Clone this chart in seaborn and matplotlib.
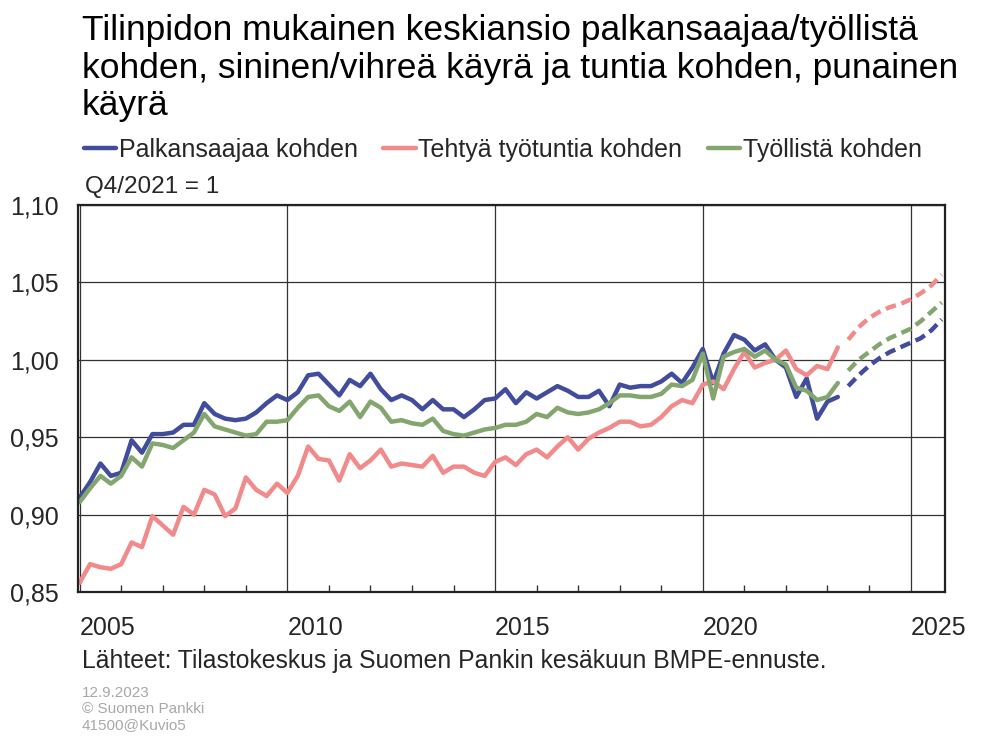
import numpy as np
import pandas as pd
import matplotlib
matplotlib.use('Agg')
import matplotlib.pyplot as plt
import seaborn as sns
from matplotlib.lines import Line2D
from matplotlib.ticker import FuncFormatter, MultipleLocator

sns.set_theme(style='white')
plt.rcParams['font.family'] = ['Liberation Sans', 'DejaVu Sans']

# neljännekset 2005Q1 - 2025Q4, toteutunut 2005Q1 - 2023Q2, ennuste 2023Q3 -
quarters = pd.period_range('2005Q1', '2025Q4', freq='Q')
n_actual = 74

palkansaaja = [0.911, 0.921, 0.933, 0.925, 0.927, 0.948, 0.940, 0.952, 0.952, 0.953,
               0.958, 0.958, 0.972, 0.965, 0.962, 0.961, 0.962, 0.966, 0.972, 0.977,
               0.974, 0.979, 0.990, 0.991, 0.984, 0.977, 0.987, 0.983, 0.991, 0.981,
               0.974, 0.977, 0.974, 0.968, 0.974, 0.968, 0.968, 0.963, 0.968, 0.974,
               0.975, 0.981, 0.972, 0.979, 0.975, 0.979, 0.983, 0.980, 0.976, 0.976,
               0.980, 0.970, 0.984, 0.982, 0.983, 0.983, 0.986, 0.991, 0.985, 0.995,
               1.007, 0.985, 1.004, 1.016, 1.013, 1.006, 1.010, 1.000, 0.995, 0.976,
               0.988, 0.962, 0.973, 0.976]
tyotunti = [0.856, 0.868, 0.866, 0.865, 0.868, 0.882, 0.879, 0.899, 0.893, 0.887,
            0.905, 0.900, 0.916, 0.913, 0.899, 0.904, 0.924, 0.916, 0.912, 0.920,
            0.914, 0.925, 0.944, 0.936, 0.935, 0.922, 0.939, 0.930, 0.935, 0.942,
            0.931, 0.933, 0.932, 0.931, 0.938, 0.927, 0.931, 0.931, 0.927, 0.925,
            0.934, 0.937, 0.932, 0.939, 0.942, 0.937, 0.944, 0.950, 0.942, 0.949,
            0.953, 0.956, 0.960, 0.960, 0.957, 0.958, 0.963, 0.970, 0.974, 0.972,
            0.984, 0.986, 0.981, 0.994, 1.005, 0.995, 0.998, 1.000, 1.006, 0.994,
            0.990, 0.996, 0.994, 1.008]
tyollinen = [0.908, 0.917, 0.925, 0.920, 0.925, 0.937, 0.931, 0.946, 0.945, 0.943,
             0.948, 0.953, 0.965, 0.957, 0.955, 0.953, 0.951, 0.952, 0.960, 0.960,
             0.961, 0.969, 0.976, 0.977, 0.970, 0.967, 0.973, 0.963, 0.973, 0.969,
             0.960, 0.961, 0.959, 0.958, 0.962, 0.954, 0.952, 0.951, 0.953, 0.955,
             0.956, 0.958, 0.958, 0.960, 0.965, 0.963, 0.969, 0.966, 0.965, 0.966,
             0.968, 0.972, 0.977, 0.977, 0.976, 0.976, 0.978, 0.984, 0.983, 0.987,
             1.004, 0.975, 1.002, 1.005, 1.007, 1.002, 1.006, 1.000, 0.997, 0.982,
             0.980, 0.974, 0.976, 0.985]

palkansaaja_ennuste = [0.983, 0.990, 0.996, 1.001, 1.005, 1.008, 1.011, 1.014, 1.019, 1.026]
tyotunti_ennuste = [1.013, 1.021, 1.027, 1.031, 1.034, 1.036, 1.039, 1.043, 1.048, 1.055]
tyollinen_ennuste = [0.993, 1.000, 1.005, 1.010, 1.014, 1.017, 1.020, 1.025, 1.031, 1.037]

SARJAT = {'Palkansaajaa kohden': (palkansaaja, palkansaaja_ennuste),
          'Tehtyä työtuntia kohden': (tyotunti, tyotunti_ennuste),
          'Työllistä kohden': (tyollinen, tyollinen_ennuste)}
VARIT = {'Palkansaajaa kohden': '#414C9D',
         'Tehtyä työtuntia kohden': '#F18A8A',
         'Työllistä kohden': '#83A66F'}

x = quarters.year + (quarters.quarter - 1) / 4
rows = []
for nimi, (tot, enn) in SARJAT.items():
    for xi, v in zip(x[:n_actual], tot):
        rows.append({'x': xi, 'arvo': v, 'sarja': nimi, 'tyyppi': 'toteutunut'})
    for xi, v in zip(x[n_actual:], enn):
        rows.append({'x': xi, 'arvo': v, 'sarja': nimi, 'tyyppi': 'ennuste'})
df = pd.DataFrame(rows)

fig = plt.figure(figsize=(10.08, 7.38), dpi=100)
ax = fig.add_axes([78/1008, 1-592/738, (945-78)/1008, (592-205)/738])

sns.lineplot(data=df, x='x', y='arvo', hue='sarja', style='tyyppi', palette=VARIT,
             dashes={'toteutunut': '', 'ennuste': (2.4, 1.3)},
             linewidth=3.2, legend=False, ax=ax)

ax.set_xlim(2004.96, 2025.83)
ax.set_ylim(0.85, 1.10)
ax.xaxis.set_major_locator(MultipleLocator(5))
ax.xaxis.set_minor_locator(MultipleLocator(1))
ax.yaxis.set_major_locator(MultipleLocator(0.05))
ax.yaxis.set_major_formatter(FuncFormatter(lambda v, p: f'{v:.2f}'.replace('.', ',')))
ax.xaxis.set_major_formatter(FuncFormatter(lambda v, p: f'{v:.0f}'))
ax.grid(True, which='major', color='#333333', linewidth=0.9)
ax.tick_params(axis='x', which='major', length=0, labelsize=18, pad=17)
ax.tick_params(axis='x', which='minor', direction='in', length=5, width=1, color='#333333', bottom=True)
ax.tick_params(axis='y', length=0, labelsize=18, pad=14)
for lab in ax.get_xticklabels():
    lab.set_horizontalalignment('left')
ax.set_xlabel('')
ax.set_ylabel('')
for s in ax.spines.values():
    s.set_color('#222222')
    s.set_linewidth(1.6)

fig.text(82/1008, 1-14/738,
         'Tilinpidon mukainen keskiansio palkansaajaa/työllistä\n'
         'kohden, sininen/vihreä käyrä ja tuntia kohden, punainen\n'
         'käyrä', ha='left', va='top', fontsize=25.5, linespacing=1.18, color='black')

handles = [Line2D([0], [0], color=VARIT[k], lw=3.2) for k in SARJAT]
fig.legend(handles, list(SARJAT.keys()), loc='center left', ncol=3,
           bbox_to_anchor=(61/1008, 1-150/738), frameon=False, fontsize=18,
           handlelength=1.3, handletextpad=0.12, columnspacing=1.0)

fig.text(85/1008, 1-187/738, 'Q4/2021 = 1', ha='left', va='center', fontsize=17.5)
fig.text(82/1008, 1-661/738, 'Lähteet: Tilastokeskus ja Suomen Pankin kesäkuun BMPE-ennuste.',
         ha='left', va='center', fontsize=17.8)
fig.text(82/1008, 1-686/738, '12.9.2023\n© Suomen Pankki\n41500@Kuvio5', ha='left', va='top',
         fontsize=11, color='#A8A8A8', linespacing=1.2)

fig.savefig('out.png', dpi=100)
